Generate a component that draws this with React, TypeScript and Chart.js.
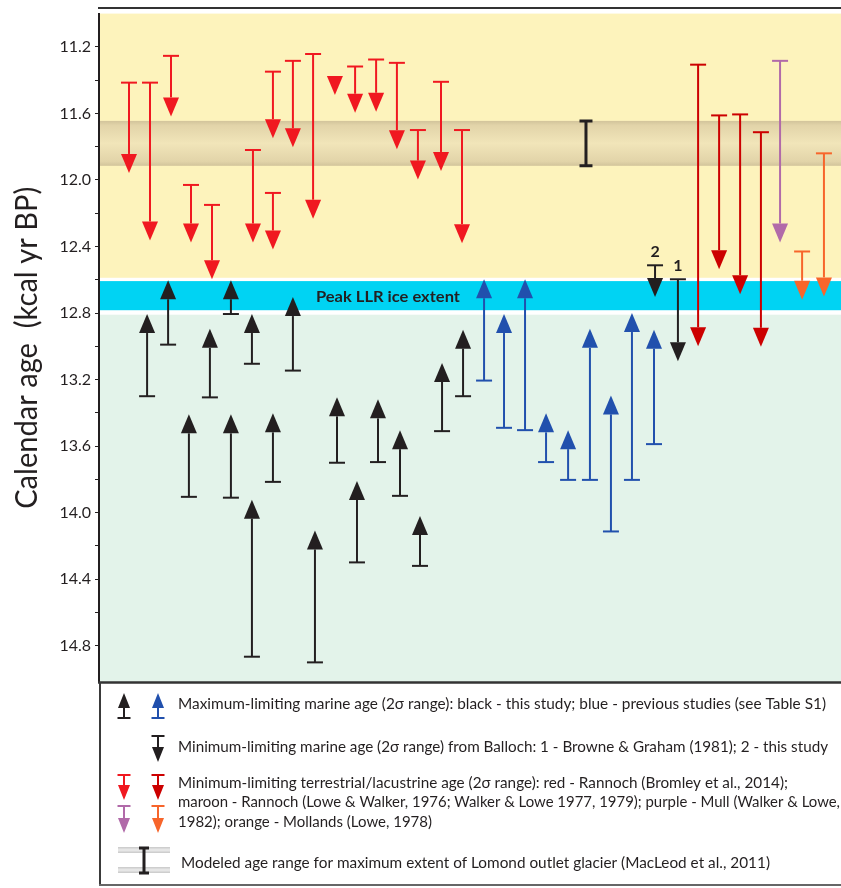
import React, { useEffect, useRef } from 'react';
import { Chart, registerables } from 'chart.js';

Chart.register(...registerables);

// ---------- data (x = sample slot, y = calendar age, kcal yr BP) ----------
// Minimum-limiting terrestrial/lacustrine ages, Rannoch (Bromley et al., 2014) - red
const redPos = [0.0, 1.01, 2.02, 2.98, 3.99, 5.96, 6.92, 6.92, 7.88, 8.85, 9.9, 10.87, 11.88, 12.88, 13.89, 15.0, 16.01];
const redCap = [11.415, 11.415, 11.254, 12.03, 12.15, 11.82, 12.078, 11.349, 11.284, 11.243, 11.39, 11.318, 11.276, 11.296, 11.7, 11.41, 11.7];
const redTip = [11.958, 12.364, 11.618, 12.376, 12.597, 12.376, 12.418, 11.749, 11.803, 12.233, 11.49, 11.596, 11.59, 11.815, 11.998, 11.946, 12.38];

// Maximum-limiting marine ages, this study - black
const blackMaxPos = [0.87, 1.88, 2.88, 3.89, 4.9, 4.9, 5.91, 5.91, 6.92, 7.88, 8.94, 10.0, 10.96, 11.97, 13.03, 13.99, 15.05, 16.06];
const blackMaxTip = [12.806, 12.603, 13.409, 12.895, 12.603, 13.409, 12.806, 13.922, 13.403, 12.704, 14.107, 13.307, 13.809, 13.319, 13.504, 14.02, 13.1, 12.9];
const blackMaxCap = [13.3, 12.99, 13.905, 13.307, 12.806, 13.91, 13.105, 14.866, 13.815, 13.146, 14.9, 13.7, 14.299, 13.696, 13.899, 14.32, 13.51, 13.3];

// Maximum-limiting marine ages, previous studies - blue
const bluePos = [17.07, 18.03, 19.04, 20.05, 21.11, 22.16, 23.17, 24.18, 25.24];
const blueTip = [12.597, 12.806, 12.597, 13.403, 13.504, 12.895, 13.295, 12.8, 12.9];
const blueCap = [13.206, 13.49, 13.504, 13.696, 13.803, 13.803, 14.113, 13.803, 13.588];

// Minimum-limiting marine ages from Balloch - black, numbered
const ballochLabels = ['2', '1'];
const ballochPos = [25.29, 26.39];
const ballochCap = [12.513, 12.597];
const ballochTip = [12.704, 13.09];

// Rannoch (Lowe & Walker) - maroon
const maroonPos = [27.36, 28.37, 29.38, 30.38];
const maroonCap = [11.307, 11.612, 11.606, 11.713];
const maroonTip = [13.0, 12.537, 12.687, 13.003];

// Mull - purple
const purplePos = [31.3];
const purpleCap = [11.284];
const purpleTip = [12.376];

// Mollands - orange
const orangePos = [32.36, 33.41];
const orangeCap = [12.43, 11.84];
const orangeTip = [12.72, 12.7];

// Modeled age range for maximum extent of Lomond outlet glacier
const modeledPos = [21.97];
const modeledRange = [11.645, 11.915];

// background zones
const yellowZone = [11.0, 12.588];
const peakIceZone = [12.608, 12.783];
const greenZone = [12.81, 15.02];
const peakLabel = 'Peak LLR ice extent';
const peakLabelPos = 12.45;

// axis
const yMin = 11.0;
const yMax = 15.018;
const xMin = -1.442;
const xMax = 34.23;
const yTickValues = [11.2, 11.4, 11.6, 11.8, 12.0, 12.2, 12.4, 12.6, 12.8, 13.0, 13.2, 13.4, 13.6, 13.8, 14.0, 14.2, 14.4, 14.6, 14.8];
const yTickLabels = ['11.2', '', '11.6', '', '12.0', '', '12.4', '', '12.8', '', '13.2', '', '13.6', '', '14.0', '', '14.4', '', '14.8'];
const yTitle = 'Calendar age  (kcal yr BP)';

const legendLines = [
  'Maximum-limiting marine age (2\u03c3 range): black - this study; blue - previous studies (see Table S1)',
  'Minimum-limiting marine age (2\u03c3 range) from Balloch: 1 - Browne & Graham (1981); 2 - this study',
  'Minimum-limiting terrestrial/lacustrine age (2\u03c3 range): red - Rannoch (Bromley et al., 2014);',
  'maroon - Rannoch (Lowe & Walker, 1976; Walker & Lowe 1977, 1979); purple - Mull (Walker & Lowe,',
  '1982); orange - Mollands (Lowe, 1978)',
  'Modeled age range for maximum extent of Lomond outlet glacier (MacLeod et al., 2011)',
];

// ---------- styles ----------
const INK = '#231f20';
const RED = '#f01820';
const MAROON = '#cc0000';
const BLUE = '#2150ad';
const PURPLE = '#b16aa9';
const ORANGE = '#f7652b';
const YELLOW = '#fdf3bc';
const CYAN = '#00d3f3';
const GREEN = '#e3f3ea';
const FONT = 'Lato, "Open Sans", sans-serif';

type ArrowOpts = { headW: number; headH: number; capW: number; lw: number };
const MAIN_ARROW: ArrowOpts = { headW: 16, headH: 19, capW: 16, lw: 2 };
const LEG_ARROW: ArrowOpts = { headW: 12, headH: 15, capW: 13, lw: 2 };

function drawArrow(ctx: CanvasRenderingContext2D, x: number, tipY: number, capY: number, color: string, o: ArrowOpts) {
  const dir = tipY < capY ? -1 : 1;
  const baseY = tipY - dir * o.headH;
  ctx.save();
  ctx.strokeStyle = color;
  ctx.fillStyle = color;
  ctx.lineWidth = o.lw;
  ctx.lineCap = 'butt';
  if (Math.abs(capY - tipY) > o.headH + 1) {
    ctx.beginPath();
    ctx.moveTo(x, capY);
    ctx.lineTo(x, baseY);
    ctx.stroke();
    ctx.beginPath();
    ctx.moveTo(x - o.capW / 2, capY);
    ctx.lineTo(x + o.capW / 2, capY);
    ctx.stroke();
  }
  ctx.beginPath();
  ctx.moveTo(x, tipY);
  ctx.lineTo(x - o.headW / 2, baseY);
  ctx.lineTo(x + o.headW / 2, baseY);
  ctx.closePath();
  ctx.fill();
  ctx.restore();
}

function drawIBeam(ctx: CanvasRenderingContext2D, x: number, y1: number, y2: number, capW: number, lw: number) {
  ctx.save();
  ctx.strokeStyle = INK;
  ctx.lineWidth = lw;
  ctx.beginPath();
  ctx.moveTo(x, y1);
  ctx.lineTo(x, y2);
  ctx.moveTo(x - capW / 2, y1);
  ctx.lineTo(x + capW / 2, y1);
  ctx.moveTo(x - capW / 2, y2);
  ctx.lineTo(x + capW / 2, y2);
  ctx.stroke();
  ctx.restore();
}

function fitText(ctx: CanvasRenderingContext2D, text: string, x: number, y: number, width: number) {
  const w = ctx.measureText(text).width;
  ctx.save();
  ctx.translate(x, y);
  ctx.scale(width / w, 1);
  ctx.fillText(text, 0, 0);
  ctx.restore();
}

const backgroundPlugin = {
  id: 'zones',
  beforeDraw(chart: any) {
    const { ctx, chartArea: a, scales } = chart;
    const y = scales.y;
    const x = scales.x;
    ctx.save();
    ctx.fillStyle = '#ffffff';
    ctx.fillRect(0, 0, chart.width, chart.height);
    const band = (r: number[], color: string) => {
      const y1 = y.getPixelForValue(r[0]);
      const y2 = y.getPixelForValue(r[1]);
      ctx.fillStyle = color;
      ctx.fillRect(a.left, y1, a.right - a.left, y2 - y1);
    };
    band(yellowZone, YELLOW);
    band(peakIceZone, CYAN);
    band(greenZone, GREEN);
    // modeled age band
    const g1 = y.getPixelForValue(modeledRange[0]);
    const g2 = y.getPixelForValue(modeledRange[1]);
    const grad = ctx.createLinearGradient(0, g1, 0, g2);
    grad.addColorStop(0, '#d2c49b');
    grad.addColorStop(0.1, '#e2d4a9');
    grad.addColorStop(0.5, '#f1e5b9');
    grad.addColorStop(0.9, '#e2d4a9');
    grad.addColorStop(1, '#d2c49b');
    ctx.fillStyle = grad;
    ctx.fillRect(a.left, g1, a.right - a.left, g2 - g1);
    // peak label
    ctx.fillStyle = INK;
    ctx.font = `bold 16px ${FONT}`;
    ctx.textAlign = 'left';
    ctx.textBaseline = 'middle';
    const cy = y.getPixelForValue((peakIceZone[0] + peakIceZone[1]) / 2);
    const cx = x.getPixelForValue(peakLabelPos);
    fitText(ctx, peakLabel, cx - 72, cy + 1, 144);
    ctx.restore();
  },
};

const arrowPlugin = {
  id: 'arrows',
  afterDatasetsDraw(chart: any) {
    const { ctx, scales } = chart;
    const y = scales.y;
    chart.data.datasets.forEach((ds: any, i: number) => {
      const meta = chart.getDatasetMeta(i);
      meta.data.forEach((el: any, j: number) => {
        const raw = ds.data[j];
        const capY = y.getPixelForValue(raw.cap);
        if (ds.kind === 'range') {
          drawIBeam(ctx, el.x, el.y, capY, 13, 3);
          return;
        }
        drawArrow(ctx, el.x, el.y, capY, ds.borderColor, MAIN_ARROW);
        if (ds.numLabels) {
          ctx.save();
          ctx.fillStyle = INK;
          ctx.font = `bold 16px ${FONT}`;
          ctx.textAlign = 'center';
          ctx.textBaseline = 'middle';
          ctx.fillText(ds.numLabels[j], el.x, capY - 13);
          ctx.restore();
        }
      });
    });
  },
  afterDraw(chart: any) {
    const { ctx, chartArea: a } = chart;
    ctx.save();
    // frame
    ctx.strokeStyle = '#333333';
    ctx.lineWidth = 2;
    ctx.beginPath();
    ctx.moveTo(98, 8);
    ctx.lineTo(chart.width, 8);
    ctx.stroke();
    ctx.lineWidth = 2.5;
    ctx.beginPath();
    ctx.moveTo(98, a.bottom + 0.5);
    ctx.lineTo(chart.width, a.bottom + 0.5);
    ctx.stroke();
    // legend box
    ctx.lineWidth = 2;
    ctx.strokeStyle = '#3a3a3a';
    ctx.beginPath();
    ctx.moveTo(100, a.bottom);
    ctx.lineTo(100, 885);
    ctx.stroke();
    ctx.strokeStyle = '#666666';
    ctx.beginPath();
    ctx.moveTo(99, 885);
    ctx.lineTo(chart.width, 885);
    ctx.stroke();

    // legend glyphs
    drawArrow(ctx, 124, 693, 718, INK, LEG_ARROW);
    drawArrow(ctx, 158, 693, 718, BLUE, LEG_ARROW);
    drawArrow(ctx, 158, 762, 736, INK, LEG_ARROW);
    drawArrow(ctx, 124, 800, 775, RED, LEG_ARROW);
    drawArrow(ctx, 158, 800, 775, MAROON, LEG_ARROW);
    drawArrow(ctx, 124, 833, 806, PURPLE, LEG_ARROW);
    drawArrow(ctx, 158, 833, 806, ORANGE, LEG_ARROW);
    [850, 870].forEach((gy) => {
      const gg = ctx.createLinearGradient(0, gy - 3, 0, gy + 3);
      gg.addColorStop(0, '#c8c8c8');
      gg.addColorStop(0.5, '#ececec');
      gg.addColorStop(1, '#c8c8c8');
      ctx.fillStyle = gg;
      ctx.fillRect(118, gy - 3, 52, 6);
    });
    drawIBeam(ctx, 144, 848, 873, 10, 3);

    // legend text
    ctx.fillStyle = INK;
    ctx.font = `16px ${FONT}`;
    ctx.textAlign = 'left';
    ctx.textBaseline = 'middle';
    fitText(ctx, legendLines[0], 178, 704, 648);
    fitText(ctx, legendLines[1], 178, 747, 650);
    fitText(ctx, legendLines[2], 178, 783, 610);
    fitText(ctx, legendLines[3], 178, 802, 662);
    fitText(ctx, legendLines[4], 178, 822, 254);
    fitText(ctx, legendLines[5], 181, 863, 589);

    // axis title
    ctx.save();
    ctx.translate(37, (a.top + a.bottom) / 2);
    ctx.rotate(-Math.PI / 2);
    ctx.font = `30px ${FONT}`;
    ctx.textAlign = 'left';
    ctx.textBaseline = 'alphabetic';
    ctx.fillStyle = INK;
    fitText(ctx, yTitle, -161, 0, 322);
    ctx.restore();
    ctx.restore();
  },
};

function mk(pos: number[], cap: number[], tip: number[]) {
  return pos.map((p, i) => ({ x: p, y: tip[i], cap: cap[i] }));
}

export default function App() {
  const ref = useRef<HTMLCanvasElement>(null);
  useEffect(() => {
    document.body.style.margin = '0';
    const canvas = ref.current!;
    const base = { pointRadius: 0, pointHoverRadius: 0, showLine: false };
    const chart = new Chart(canvas, {
      type: 'scatter',
      data: {
        datasets: [
          { label: 'red', data: mk(redPos, redCap, redTip), borderColor: RED, backgroundColor: RED, ...base },
          { label: 'blackMax', data: mk(blackMaxPos, blackMaxCap, blackMaxTip), borderColor: INK, backgroundColor: INK, ...base },
          { label: 'blue', data: mk(bluePos, blueCap, blueTip), borderColor: BLUE, backgroundColor: BLUE, ...base },
          { label: 'balloch', data: mk(ballochPos, ballochCap, ballochTip), borderColor: INK, backgroundColor: INK, numLabels: ballochLabels, ...base },
          { label: 'maroon', data: mk(maroonPos, maroonCap, maroonTip), borderColor: MAROON, backgroundColor: MAROON, ...base },
          { label: 'purple', data: mk(purplePos, purpleCap, purpleTip), borderColor: PURPLE, backgroundColor: PURPLE, ...base },
          { label: 'orange', data: mk(orangePos, orangeCap, orangeTip), borderColor: ORANGE, backgroundColor: ORANGE, ...base },
          { label: 'modeled', data: mk(modeledPos, [modeledRange[1]], [modeledRange[0]]), borderColor: INK, backgroundColor: INK, kind: 'range', ...base },
        ] as any,
      },
      options: {
        responsive: false,
        animation: false,
        events: [],
        layout: { padding: { top: 9, bottom: 206, left: 0, right: 0 } },
        plugins: { legend: { display: false }, tooltip: { enabled: false }, title: { display: false } },
        scales: {
          x: { type: 'linear', display: false, min: xMin, max: xMax },
          y: {
            type: 'linear',
            reverse: true,
            min: yMin,
            max: yMax,
            afterFit: (s: any) => {
              s.width = 99;
            },
            afterBuildTicks: (s: any) => {
              s.ticks = yTickValues.map((v) => ({ value: v }));
            },
            ticks: {
              autoSkip: false,
              padding: 4,
              color: INK,
              font: { family: FONT, size: 16 },
              callback: (_v: any, i: number) => yTickLabels[i],
            },
            grid: { drawOnChartArea: false, drawTicks: true, tickLength: 4, color: INK, lineWidth: 1 },
            border: { display: true, color: INK, width: 2 },
          },
        },
      } as any,
      plugins: [backgroundPlugin, arrowPlugin],
    });
    return () => chart.destroy();
  }, []);
  return (
    <div style={{ position: 'absolute', left: 0, top: 0, width: 841, height: 888, background: '#fff' }}>
      <canvas ref={ref} width={841} height={888} style={{ display: 'block', width: 841, height: 888 }} />
    </div>
  );
}
